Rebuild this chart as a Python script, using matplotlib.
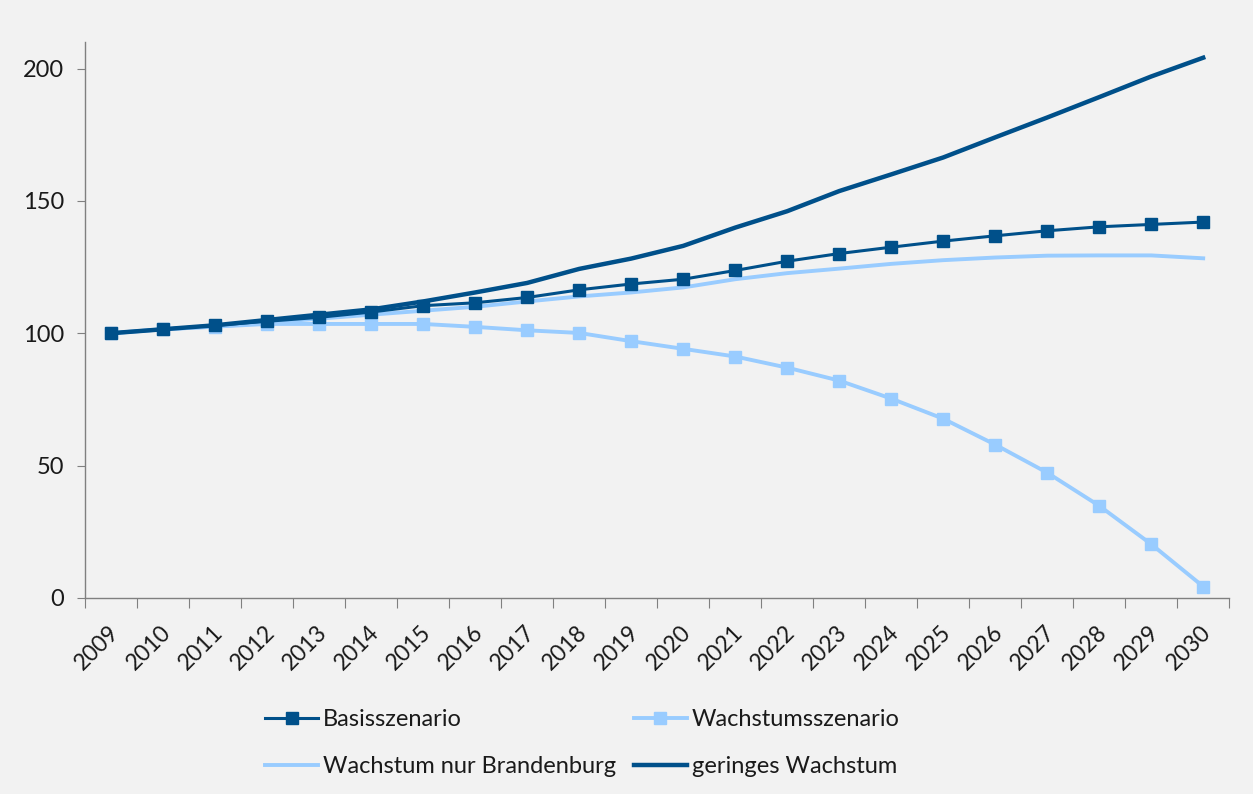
import matplotlib
matplotlib.use("Agg")
import matplotlib.pyplot as plt
import matplotlib.transforms as mtransforms
import numpy as np

years = [str(y) for y in range(2009, 2031)]
basis = [100, 101.5, 103, 104.5, 106, 108, 110.4, 111.5, 113.5, 116.4, 118.6, 120.4,
         123.7, 127.2, 130.1, 132.5, 134.8, 136.8, 138.7, 140.2, 141.1, 142.0]
wachstum = [100, 101.5, 102.5, 103.5, 103.5, 103.5, 103.5, 102.4, 101.1, 100.1, 97.0, 94.1,
            91.2, 87.0, 82.1, 75.3, 67.7, 57.9, 47.3, 34.8, 20.3, 4.3]
brandenburg = [100, 101.5, 102.5, 104, 105.5, 107, 108.5, 110, 112, 113.9, 115.4, 117.3,
               120.4, 122.7, 124.4, 126.2, 127.6, 128.6, 129.3, 129.4, 129.4, 128.3]
gering = [100, 101.5, 103, 105, 107, 109, 112, 115.4, 119, 124.3, 128.2, 133,
          139.9, 146.1, 153.7, 160, 166.4, 174, 181.5, 189.2, 197, 204.1]
yticks = [0, 50, 100, 150, 200]

dark = "#00508a"
light = "#99ccff"
bg = "#f2f2f2"

plt.rcParams['font.family'] = ['Lato', 'DejaVu Sans']

fig = plt.figure(figsize=(12.53, 7.94), dpi=100, facecolor=bg)
ax = fig.add_axes([0.068, 0.247, 0.913, 0.700], facecolor=bg)

x = np.arange(len(years))
l1, = ax.plot(x, basis, color=dark, lw=2.2, marker='s', ms=9, label='Basisszenario', zorder=4)
l2, = ax.plot(x, wachstum, color=light, lw=2.8, marker='s', ms=9, label='Wachstumsszenario', zorder=3)
l3, = ax.plot(x, brandenburg, color=light, lw=2.8, label='Wachstum nur Brandenburg', zorder=3)
l4, = ax.plot(x, gering, color=dark, lw=3.2, label='geringes Wachstum', zorder=5)

ax.set_xlim(-0.5, len(years) - 0.5)
ax.set_ylim(0, 210)

ax.set_xticks(np.arange(len(years) + 1) - 0.5)
ax.set_xticklabels([])
ax.tick_params(axis='x', which='major', length=7, color='#808080', direction='out')
ax.set_xticks(x, minor=True)
ax.set_xticklabels(years, minor=True, rotation=45, ha='right', va='top',
                   rotation_mode='anchor', fontsize=16.5, color='#1a1a1a')
ax.tick_params(axis='x', which='minor', length=0, pad=17)
shift = mtransforms.ScaledTranslation(-3 / 100, 0, fig.dpi_scale_trans)
for lab in ax.get_xticklabels(minor=True):
    lab.set_transform(lab.get_transform() + shift)

ax.set_yticks(yticks)
ax.set_yticklabels([str(v) for v in yticks], fontsize=17, color='#1a1a1a')
ax.tick_params(axis='y', length=6, color='#808080', pad=9)

for s in ['top', 'right']:
    ax.spines[s].set_visible(False)
for s in ['left', 'bottom']:
    ax.spines[s].set_color('#808080')
    ax.spines[s].set_linewidth(1.0)

leg = fig.legend([l1, l3, l2, l4],
                 ['Basisszenario', 'Wachstum nur Brandenburg', 'Wachstumsszenario', 'geringes Wachstum'],
                 ncol=2, loc='center left', bbox_to_anchor=(265 / 1253, 0.064), frameon=False,
                 fontsize=17, handlelength=2.25, handletextpad=0.2, columnspacing=0.75,
                 labelspacing=1.1, borderpad=0, borderaxespad=0)
for t in leg.get_texts():
    t.set_color('#1a1a1a')

fig.savefig("out.png", dpi=100, facecolor=bg)
